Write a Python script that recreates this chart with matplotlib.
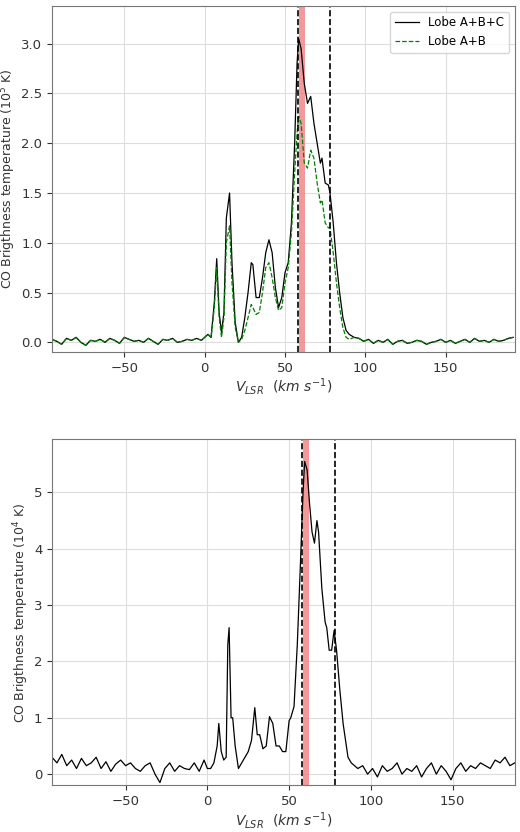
import matplotlib.pyplot as plt
import numpy as np

# ---- top panel: Lobe A+B+C and Lobe A+B (10^5 K) ----
base_left_v = list(range(-95, -1, 3))
base_left_t = [0.03, 0.01, -0.02, 0.04, 0.02, 0.05, 0.0, -0.03, 0.02, 0.01, 0.03,
               0.0, 0.04, 0.02, -0.01, 0.05, 0.03, 0.01, 0.02, 0.0, 0.04, 0.01,
               -0.02, 0.03, 0.02, 0.04, 0.0, 0.01, 0.03, 0.02, 0.04, 0.02]
sig_v = [0, 2, 4, 6, 7.5, 9, 10.5, 12, 13.5, 15.5, 17, 19, 21, 23, 25, 27, 29, 30,
         32, 34, 36, 38, 40, 42, 44, 46, 48, 50, 52, 54, 56, 57.5, 58.5, 60, 62, 64,
         66, 68, 70, 72, 73, 75, 77, 78, 80, 82, 84, 86, 88, 90]
abc_t = [0.05, 0.08, 0.05, 0.4, 0.84, 0.3, 0.1, 0.3, 1.25, 1.5, 0.8, 0.2, 0.0, 0.05,
         0.25, 0.5, 0.8, 0.78, 0.45, 0.45, 0.65, 0.9, 1.03, 0.9, 0.55, 0.35, 0.45, 0.7,
         0.8, 1.2, 2.0, 2.8, 3.05, 2.95, 2.6, 2.4, 2.47, 2.2, 2.0, 1.8, 1.85, 1.6, 1.58,
         1.5, 1.2, 0.8, 0.5, 0.25, 0.12, 0.08]
ab_t = [0.05, 0.08, 0.05, 0.35, 0.75, 0.25, 0.05, 0.25, 1.0, 1.17, 0.6, 0.15, 0.0, 0.03,
        0.12, 0.25, 0.38, 0.35, 0.28, 0.3, 0.5, 0.75, 0.8, 0.65, 0.45, 0.32, 0.35, 0.6,
        0.75, 1.1, 1.7, 2.1, 2.27, 2.2, 1.8, 1.75, 1.93, 1.85, 1.6, 1.4, 1.43, 1.2, 1.15,
        1.15, 0.9, 0.6, 0.35, 0.15, 0.05, 0.03]
base_right_v = list(range(93, 194, 3))
base_right_t = [0.05, 0.04, 0.01, 0.03, -0.01, 0.02, 0.0, 0.03, -0.02, 0.01, 0.02,
                -0.01, 0.0, 0.02, 0.01, -0.02, 0.0, 0.01, 0.03, 0.0, 0.02, -0.01,
                0.01, 0.03, 0.0, 0.04, 0.01, 0.02, 0.0, 0.03, 0.01, 0.02, 0.04, 0.05]

# ---- bottom panel (10^4 K) ----
b_left_t = [0.3, 0.2, 0.35, 0.15, 0.25, 0.1, 0.28, 0.15, 0.2, 0.3, 0.1, 0.22, 0.05,
            0.18, 0.25, 0.15, 0.2, 0.1, 0.05, 0.15, 0.2, 0.0, -0.15, 0.1, 0.2, 0.05,
            0.15, 0.1, 0.08, 0.2, 0.05, 0.25]
b_sig_v = [0, 2, 4, 6, 7, 8.5, 10, 11.5, 12.5, 13.3, 14.5, 15.5, 17, 19, 21, 23, 25,
           27, 29, 30.5, 32, 34, 36, 38, 40, 42, 44, 46, 48, 50, 51, 53, 55, 57, 58.5,
           59.5, 61, 62.5, 64, 65.5, 67, 68, 70, 72, 73, 74.5, 76, 77.5, 79, 81, 83,
           84.5, 86, 88, 90]
b_sig_t = [0.1, 0.1, 0.2, 0.5, 0.9, 0.4, 0.25, 0.3, 2.3, 2.6, 1.0, 1.0, 0.5, 0.1, 0.2,
           0.3, 0.4, 0.6, 1.18, 0.7, 0.7, 0.45, 0.5, 1.02, 0.9, 0.5, 0.5, 0.4, 0.4, 0.95,
           1.0, 1.2, 2.3, 3.8, 5.0, 5.55, 5.4, 4.8, 4.3, 4.1, 4.5, 4.3, 3.3, 2.7, 2.6,
           2.2, 2.2, 2.55, 2.2, 1.5, 0.9, 0.6, 0.3, 0.2, 0.15]
b_right_t = [0.1, 0.15, 0.0, 0.1, -0.05, 0.15, 0.05, 0.1, 0.2, 0.0, 0.1, 0.05, 0.15,
             -0.05, 0.1, 0.2, 0.0, 0.15, 0.05, -0.1, 0.1, 0.2, 0.05, 0.15, 0.1, 0.2,
             0.15, 0.1, 0.25, 0.2, 0.3, 0.15, 0.2]

vlines = [58, 78]
band = (58.5, 62.2)

plt.rcParams['font.family'] = 'DejaVu Sans'
fig, (ax1, ax2) = plt.subplots(2, 1, figsize=(5.2, 8.32), dpi=100)
fig.subplots_adjust(left=0.1, right=0.99, top=0.993, bottom=0.056, hspace=0.25)

v_top = base_left_v + sig_v + base_right_v
ax1.plot(v_top, base_left_t + abc_t + base_right_t, color='black', lw=0.9, label='Lobe A+B+C')
ax1.plot(v_top, base_left_t + ab_t + base_right_t, color='green', lw=0.9, ls='--', label='Lobe A+B')
ax1.set_xlim(-95, 193)
ax1.set_ylim(-0.1, 3.38)
ax1.set_ylabel('CO Brigthness temperature ($10^5$ K)', fontsize=9, color='#333333', labelpad=2)
ax1.legend(loc='upper right', fontsize=8.5)

b_right_v = list(range(92, 190, 3))
v_bot = base_left_v + b_sig_v + b_right_v
ax2.plot(v_bot, b_left_t + b_sig_t + b_right_t, color='black', lw=0.9)
ax2.set_xlim(-95, 188)
ax2.set_ylim(-0.2, 5.95)
ax2.set_ylabel('CO Brigthness temperature ($10^4$ K)', fontsize=9, color='#333333', labelpad=2)

for ax in (ax1, ax2):
    ax.axvspan(*band, color='#f08080', alpha=0.8, lw=0)
    for x in vlines:
        ax.axvline(x, color='black', ls='--', lw=1.2)
    ax.grid(color='#dddddd', lw=0.8)
    ax.set_axisbelow(True)
    ax.set_xlabel(r'$V_{LSR}$  $(km\ s^{-1})$', fontsize=10, color='#333333', labelpad=1)
    ax.tick_params(labelsize=9.5, colors='#333333')
    for s in ax.spines.values():
        s.set_color('#777777')

fig.savefig('out.png')
